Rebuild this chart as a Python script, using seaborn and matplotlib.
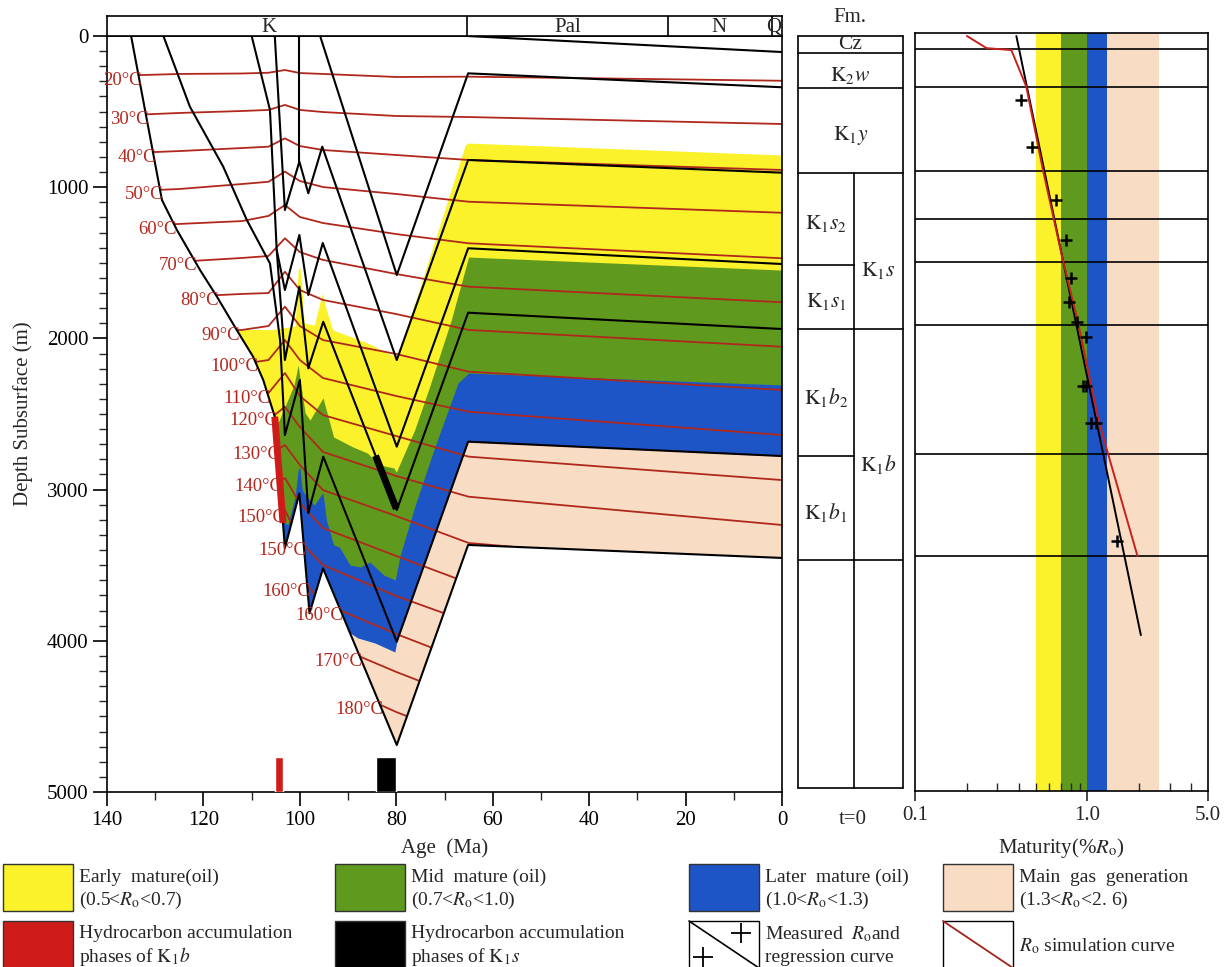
import numpy as np
import matplotlib
matplotlib.use("Agg")
import matplotlib.pyplot as plt
from matplotlib.patches import Polygon, Rectangle
from matplotlib.ticker import MultipleLocator, FixedLocator, NullFormatter, FixedFormatter
import seaborn as sns

sns.set_style("ticks")
plt.rcParams["font.family"] = ["Liberation Serif", "DejaVu Serif"]
plt.rcParams["mathtext.fontset"] = "stix"
plt.rcParams["axes.linewidth"] = 1.2
plt.rcParams["axes.edgecolor"] = "black"

# ---------------- geological time scale ----------------
period_names = ["K", "Pal", "N", "Q"]
period_bounds = [140, 65.3, 23.6, 2.0, 0]
period_label_age = [106.5, 44.5, 13.0, 1.8]

# ---------------- burial curves (age Ma, depth m) ----------------
cz_age = [65.3, 0]
cz_depth = [0, 106]
k2w_age = [95.8, 79.9, 65.1, 0]
k2w_depth = [0, 1581, 247, 339]
k1y_age = [105.2, 103.1, 100.1, 98.25, 95.35, 79.9, 65.1, 0]
k1y_depth = [0, 1151, 831, 1040, 732, 2143, 820, 904]
fill_age = [100.1, 100.1]
fill_depth = [0, 831]
k1s2_age = [110.0, 106.2, 104.8, 103.1, 100.1, 98.25, 95.25, 79.9, 65.1, 0]
k1s2_depth = [0, 489, 1415, 1680, 1316, 1713, 1369, 2716, 1404, 1508]
k1s1_age = [104.8, 103.1, 100.1, 98.25, 95.15, 79.9, 65.1, 0]
k1s1_depth = [1415, 2143, 1658, 2198, 1890, 3135, 1830, 1938]
k1b2_age = [128.3, 122.8, 115.9, 111.0, 106.2, 104.1, 103.1, 100.0, 98.25, 95.15, 79.9, 65.1, 0]
k1b2_depth = [0, 468, 864, 1217, 1504, 2011, 2639, 2275, 3155, 2782, 4006, 2683, 2778]
k1b1_age = [135, 128.6, 125.5, 120.7, 117.2, 113.1, 109.7, 107.6, 105.2, 103.1, 100.1, 98.0,
            95.2, 79.9, 65.1, 0]
k1b1_depth = [0, 1085, 1283, 1548, 1724, 1944, 2121, 2275, 2518, 3386, 3025, 3818,
              3521, 4689, 3366, 3452]

# ---------------- maturity zone tops (iso-Ro lines) ----------------
ro05_age = [140, 106, 103.5, 101, 100.35, 100.0, 99.6, 99.1, 97, 95.7, 95.3, 94.8, 93.2, 86,
            80, 79.3, 74.4, 69.5, 65.7, 65, 0]
ro05_depth = [1944, 1944, 1931, 1918, 1548, 1528, 1647, 1898, 1911, 1746, 1700, 1779, 1944, 2030,
              2123, 2077, 1594, 1104, 721, 708, 787]
ro07_age = [140, 105.5, 104.8, 101.2, 100.35, 99.8, 98.9, 97.9, 95.7, 95.2, 93, 89, 86, 83.4,
            80.5, 80, 76.2, 73.1, 68.6, 65, 0]
ro07_depth = [2606, 2606, 2579, 2308, 2176, 2308, 2493, 2540, 2421, 2394, 2652, 2718, 2758, 2837,
              2857, 2884, 2606, 2321, 1878, 1462, 1548]
ro10_age = [140, 104.5, 103.4, 102.5, 101, 100.35, 100.0, 99.5, 98.7, 97, 95.6, 95.2, 94.5, 93,
            91.8, 89.6, 87.5, 85.5, 82.6, 80.2, 79.3, 76.2, 72, 67.2, 65, 0]
ro10_depth = [3366, 3366, 3214, 3234, 3049, 2870, 2851, 3003, 3042, 3102, 3036, 3022, 3201, 3366,
              3380, 3499, 3512, 3479, 3565, 3598, 3446, 3115, 2718, 2295, 2229, 2308]
ro13_age = [140, 93.5, 92.6, 89.6, 88, 84.4, 80.3, 79.9, 65.1, 0]
ro13_depth = [4524, 4524, 3757, 3948, 3981, 4015, 4074, 4006, 2683, 2778]

# ---------------- isotherms: depth (m) at each anchor age, 20-180 degC ----------------
iso_temp = [20, 30, 40, 50, 60, 70, 80, 90, 100, 110, 120, 130, 140, 150, 160, 170, 180]
iso_age = [140, 125, 112, 106.5, 103.1, 100, 95.2, 80, 65, 0]
iso_d140 = [265, 529, 780, 1032, 1270, 1508, 1746, 1984, 2222, 2460, 2698, 2937, 3175, 3413, 3651, 3889, 4127]
iso_d125 = [251, 509, 761, 1012, 1243, 1493, 1726, 1964, 2202, 2440, 2672, 2910, 3148, 3386, 3624, 3862, 4101]
iso_d112 = [248, 496, 741, 979, 1224, 1468, 1706, 1944, 2169, 2407, 2639, 2870, 3108, 3347, 3585, 3823, 4061]
iso_d106 = [243, 489, 732, 964, 1190, 1455, 1700, 1918, 2143, 2361, 2540, 2771, 3003, 3234, 3466, 3697, 3929]
iso_d103 = [225, 456, 677, 897, 1118, 1338, 1559, 1790, 2011, 2229, 2452, 2705, 2923, 3135, 3353, 3571, 3790]
iso_d100 = [245, 489, 728, 959, 1197, 1429, 1680, 1918, 2143, 2381, 2586, 2837, 3089, 3340, 3585, 3829, 4074]
iso_d95 = [251, 503, 754, 999, 1237, 1481, 1746, 2011, 2262, 2507, 2751, 3003, 3254, 3499, 3750, 4001, 4253]
iso_d80 = [271, 529, 787, 1045, 1310, 1574, 1839, 2103, 2381, 2646, 2910, 3175, 3439, 3704, 3955, 4206, 4471]
iso_d65 = [269, 536, 820, 1096, 1371, 1658, 1944, 2220, 2485, 2782, 3047, 3353, 3618, 3876, 4140, 4392, 4656]
iso_d0 = [296, 582, 886, 1169, 1470, 1761, 2055, 2341, 2639, 2937, 3234, 3532, 3810, 4094, 4378, 4656, 4934]

# isotherm labels: temperature and the age near which the line enters the section
label_temp = [20, 30, 40, 50, 60, 70, 80, 90, 100, 110, 120, 130, 140, 150, 150, 160, 160, 170, 180]
label_near = [140] * 14 + [99.5, 99.0, 92.0, 89.0, 85.0]

# hydrocarbon accumulation phases (Ma)
phase_start = [105.2, 84.3]
phase_end = [103.5, 80.0]

# ---------------- formation column ----------------
fm_names = [r"Cz", r"$\mathrm{K}_2w$", r"$\mathrm{K}_1y$"]
fm_top = [0, 112, 344]
fm_base = [112, 344, 906]
sub_names = [r"$\mathrm{K}_1s_2$", r"$\mathrm{K}_1s_1$", r"$\mathrm{K}_1b_2$", r"$\mathrm{K}_1b_1$"]
sub_top = [906, 1515, 1938, 2778]
sub_base = [1515, 1938, 2778, 3466]
group_names = [r"$\mathrm{K}_1s$", r"$\mathrm{K}_1b$"]
group_top = [906, 1938]
group_base = [1938, 3466]
column_bottom = 4974

# ---------------- vitrinite reflectance profile ----------------
ro_zone_lo = [0.5, 0.7, 1.0, 1.3]
ro_zone_hi = [0.7, 1.0, 1.3, 2.6]
ro_grid_depth = [86, 337, 893, 1210, 1495, 1911, 2765, 3439]
meas_ro = [0.414, 0.476, 0.653, 0.746, 0.808, 0.784, 0.871, 0.987, 0.94, 0.98, 1.05, 1.12, 1.476]
meas_depth = [423, 732, 1085, 1349, 1600, 1757, 1889, 1988, 2315, 2315, 2560, 2560, 3338]
reg_ro = [0.387, 2.04]
reg_depth = [0, 3962]
sim_ro = [0.20, 0.26, 0.362, 0.442, 0.552, 0.72, 0.879, 1.17, 1.95]
sim_depth = [0, 80, 93, 335, 886, 1481, 1889, 2560, 3439]

# ---------------- colours ----------------
C_EARLY = "#FBF22C"
C_MID = "#5F9A1E"
C_LATE = "#1D55C6"
C_GAS = "#F8DCC4"
C_ISO = "#B0281C"
C_ISO_TXT = "#B5271E"
C_KB = "#D01B1B"
zone_colors = [C_EARLY, C_MID, C_LATE, C_GAS]

W, H = 1227.0, 967.0


def box(x0, y0, x1, y1):
    return [x0 / W, 1 - y1 / H, (x1 - x0) / W, (y1 - y0) / H]


fig = plt.figure(figsize=(12.27, 9.67), dpi=100, facecolor="white")

# ================= burial history =================
ax = fig.add_axes(box(107, 36, 782, 792))
ax.set_xlim(140, 0)
ax.set_ylim(5000, 0)

outline = np.column_stack([np.r_[k1b1_age, 0, k1b1_age[0]], np.r_[k1b1_depth, 0, 0]])
basin = Polygon(outline, closed=True, transform=ax.transData, fc="none", ec="none")

for ages, depths, color in zip([ro05_age, ro07_age, ro10_age, ro13_age],
                               [ro05_depth, ro07_depth, ro10_depth, ro13_depth], zone_colors):
    band = ax.fill_between(ages, depths, 6000, color=color, linewidth=0, zorder=1)
    band.set_clip_path(basin)

iso_table = np.array([iso_d140, iso_d125, iso_d112, iso_d106, iso_d103, iso_d100,
                      iso_d95, iso_d80, iso_d65, iso_d0]).T
for row in iso_table:
    ln, = ax.plot(iso_age, row, color=C_ISO, lw=1.3, zorder=2)
    ln.set_clip_path(basin)

# where each isotherm enters the sedimentary section
grid = np.linspace(140, 0, 14001)
base_on_grid = np.interp(grid, k1b1_age[::-1], k1b1_depth[::-1])
entries = {}
for T, row in zip(iso_temp, iso_table):
    d = np.interp(grid, iso_age[::-1], row[::-1])
    inside = d < base_on_grid
    idx = np.where(inside[1:] & ~inside[:-1])[0] + 1
    entries[T] = [(grid[i], d[i]) for i in idx]
for T, near in zip(label_temp, label_near):
    pts = entries[T]
    if not pts:
        continue
    a, d = min(pts, key=lambda p: abs(p[0] - near))
    ax.annotate(f"{T}°C", (a, d), xytext=(3, -5), textcoords="offset pixels",
                ha="right", va="center", fontsize=13.5, color=C_ISO_TXT, zorder=5)

curves = [(cz_age, cz_depth), (k2w_age, k2w_depth), (k1y_age, k1y_depth), (fill_age, fill_depth),
          (k1s2_age, k1s2_depth), (k1s1_age, k1s1_depth), (k1b2_age, k1b2_depth),
          (k1b1_age, k1b1_depth)]
for ages, depths in curves:
    sns.lineplot(x=ages, y=depths, sort=False, estimator=None, color="black", lw=1.5,
                 ax=ax, zorder=3)

# accumulation phases: along the host curve and as bars on the time axis
for (s, e, host, color) in zip(phase_start, phase_end,
                               [(k1b1_age, k1b1_depth), (k1s1_age, k1s1_depth)],
                               [C_KB, "black"]):
    seg = np.linspace(s, e, 30)
    seg_d = np.interp(seg, host[0][::-1], host[1][::-1])
    ax.plot(seg, seg_d, color=color, lw=5, solid_capstyle="butt", zorder=4)
    ax.bar((s + e) / 2, -230, width=s - e, bottom=5000, color=color, zorder=4)

ax.xaxis.set_major_locator(MultipleLocator(20))
ax.xaxis.set_minor_locator(MultipleLocator(10))
ax.yaxis.set_major_locator(MultipleLocator(1000))
ax.yaxis.set_minor_locator(MultipleLocator(100))
ax.tick_params(which="major", length=10, width=1.2, direction="out", labelsize=15,
               top=False, right=False, colors="black")
ax.tick_params(which="minor", length=6, width=1.0, direction="out", top=False, right=False)
ax.set_xlabel("Age  (Ma)", fontsize=15, labelpad=6)
ax.set_ylabel("Depth Subsurface (m)", fontsize=15, labelpad=10)
for sp in ax.spines.values():
    sp.set_visible(True)
    sp.set_linewidth(1.2)

# period strip
axh = fig.add_axes(box(107, 16, 782, 36))
axh.set_xlim(140, 0)
axh.set_ylim(0, 1)
axh.set_xticks([])
axh.set_yticks([])
for b in period_bounds[1:-1]:
    axh.axvline(b, color="black", lw=1.2)
for name, a in zip(period_names, period_label_age):
    axh.text(a, 0.42, name, ha="center", va="center", fontsize=15)

# ================= formation column =================
axf = fig.add_axes(box(798, 36, 903, 792))
axf.set_xlim(0, 1)
axf.set_ylim(5000, 0)
axf.axis("off")
split = 0.533
lk = dict(color="black", lw=1.2, clip_on=False)
axf.plot([0, 0], [0, column_bottom], **lk)
axf.plot([1, 1], [0, column_bottom], **lk)
axf.plot([0, 1], [0, 0], **lk)
axf.plot([0, 1], [column_bottom, column_bottom], **lk)
for name, t, b in zip(fm_names, fm_top, fm_base):
    axf.plot([0, 1], [b, b], **lk)
    shift = 0 if t == 0 else 30
    axf.text(0.5, (t + b) / 2 + shift, name, ha="center", va="center", fontsize=15.5)
axf.plot([split, split], [fm_base[-1], column_bottom], **lk)
for name, t, b in zip(sub_names, sub_top, sub_base):
    axf.plot([0, split], [b, b], **lk)
    axf.text(split / 2, (t + b) / 2 + 30, name, ha="center", va="center", fontsize=15.5)
for name, t, b in zip(group_names, group_top, group_base):
    axf.plot([split, 1], [b, b], **lk)
    axf.text((split + 1) / 2, (t + b) / 2 + 130, name, ha="center", va="center", fontsize=15.5)
fig.text(850 / W, 1 - 18 / H, "Fm.", ha="center", va="center", fontsize=15)
fig.text(853 / W, 1 - 819 / H, "t=0", ha="center", va="center", fontsize=15)

# ================= maturity profile =================
axr = fig.add_axes(box(915, 33, 1208, 791))
axr.set_xscale("log")
axr.set_xlim(0.1, 5.0)
axr.set_ylim(4993, -20)
for lo, hi, color in zip(ro_zone_lo, ro_zone_hi, zone_colors):
    axr.axvspan(lo, hi, color=color, lw=0, zorder=0)
for d in ro_grid_depth:
    axr.axhline(d, color="black", lw=1.2, zorder=1)
sns.lineplot(x=reg_ro, y=reg_depth, sort=False, estimator=None, color="black", lw=1.4,
             ax=axr, zorder=3)
sns.lineplot(x=sim_ro, y=sim_depth, sort=False, estimator=None, color="#C8201A", lw=1.4,
             ax=axr, zorder=3)
sns.scatterplot(x=meas_ro, y=meas_depth, marker="+", color="black", s=70, linewidth=1.8,
                ax=axr, zorder=4)
axr.xaxis.set_major_locator(FixedLocator([0.1, 1.0, 5.0]))
axr.xaxis.set_major_formatter(FixedFormatter(["0.1", "1.0", "5.0"]))
axr.xaxis.set_minor_locator(FixedLocator([0.2, 0.3, 0.4, 0.5, 0.6, 0.7, 0.8, 0.9, 2, 3, 4]))
axr.xaxis.set_minor_formatter(NullFormatter())
axr.tick_params(axis="x", which="major", length=7, width=1.2, direction="out", labelsize=15)
axr.tick_params(axis="x", which="minor", length=6, width=1.0, direction="in")
axr.set_yticks([])
axr.set_xlabel(r"Maturity(%$R_\mathrm{o}$)", fontsize=15, labelpad=8)
axr.set_ylabel("")
for sp in axr.spines.values():
    sp.set_visible(True)
    sp.set_linewidth(1.2)

# ================= legend =================
axl = fig.add_axes([0, 0, 1, 1])
axl.set_xlim(0, W)
axl.set_ylim(H, 0)
axl.axis("off")
axl.patch.set_visible(False)

legend_items = [
    (3, 864, C_EARLY, "Early  mature(oil)", r"(0.5<$R_\mathrm{o}$<0.7)"),
    (335, 864, C_MID, "Mid  mature (oil)", r"(0.7<$R_\mathrm{o}$<1.0)"),
    (689, 864, C_LATE, "Later  mature (oil)", r"(1.0<$R_\mathrm{o}$<1.3)"),
    (943, 864, C_GAS, "Main  gas  generation", r"(1.3<$R_\mathrm{o}$<2. 6)"),
    (3, 921, C_KB, "Hydrocarbon accumulation", r"phases of $\mathrm{K}_1b$"),
    (335, 921, "black", "Hydrocarbon accumulation", r"phases of $\mathrm{K}_1s$"),
]
bw, bh = 70, 47
for x0, y0, color, l1, l2 in legend_items:
    axl.add_patch(Rectangle((x0, y0), bw, bh, facecolor=color, edgecolor="#333333", lw=1.0))
    axl.text(x0 + bw + 6, y0 + 13, l1, ha="left", va="center", fontsize=14)
    axl.text(x0 + bw + 6, y0 + 36, l2, ha="left", va="center", fontsize=14)

# measured Ro key
mx, my = 689, 921
axl.add_patch(Rectangle((mx, my), bw, bh, facecolor="white", edgecolor="black", lw=1.0))
axl.plot([mx, mx + bw], [my, my + bh], color="black", lw=1.2)
axl.plot([mx + 52, mx + 14], [my + 12, my + 36], ls="none", marker="+", ms=15, mew=1.3,
         color="black")
axl.text(mx + bw + 6, my + 13, r"Measured  $R_\mathrm{o}$and", ha="left", va="center", fontsize=14)
axl.text(mx + bw + 6, my + 36, "regression curve", ha="left", va="center", fontsize=14)

# simulated Ro key
sx, sy = 943, 921
axl.add_patch(Rectangle((sx, sy), bw, bh, facecolor="white", edgecolor="black", lw=1.0))
axl.plot([sx, sx + bw], [sy, sy + bh], color="#A0241A", lw=1.3)
axl.text(sx + bw + 6, sy + 25, r"$R_\mathrm{o}$ simulation curve", ha="left", va="center",
         fontsize=14)

fig.savefig("out.png", dpi=100, facecolor="white")
